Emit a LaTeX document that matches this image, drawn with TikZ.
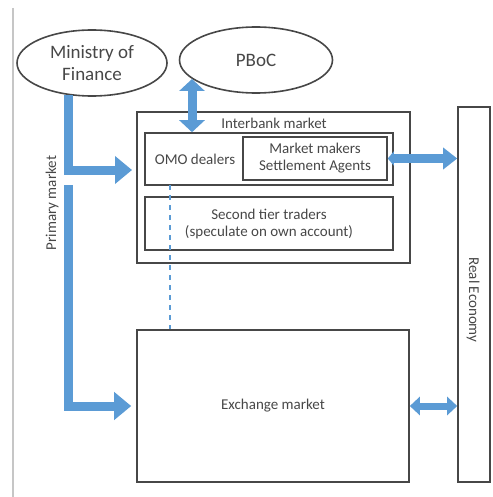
\documentclass[tikz,border=0pt]{standalone}
\usepackage{fontspec}
\setmainfont{Carlito}
\usetikzlibrary{arrows.meta,shapes.geometric}
\definecolor{OffBlue}{HTML}{5B9BD5}
\definecolor{Ink}{HTML}{474747}

\begin{document}
\begin{tikzpicture}[x=1pt,y=-1pt,
  el/.style={ellipse,draw=Ink,line width=1.6pt,text=Ink,align=center,inner sep=0pt,
    font=\fontsize{19}{22}\selectfont},
  bx/.style={draw=Ink,line width=1.6pt,text=Ink,align=center,inner sep=0pt,
    font=\fontsize{15}{17}\selectfont},
  lbl/.style={text=Ink,inner sep=0pt,font=\fontsize{15}{17}\selectfont},
  fl/.style={draw=OffBlue,line width=9pt,-{Triangle[length=17pt,width=27pt]}},
  dfl/.style={draw=OffBlue,line width=7pt,{Triangle[length=10pt,width=18pt]}-{Triangle[length=10pt,width=18pt]}},
  dsh/.style={draw=OffBlue,line width=1.5pt,dash pattern=on 5pt off 5pt}]
\useasboundingbox (0,0) rectangle (492,497);

% ===== left rule =====
\draw[gray!45,line width=1.2pt] (13,8) -- (13,497);

% ===== issuers =====
\node[el,minimum width=150,minimum height=66] (mof) at (92,63) {Ministry of\\Finance};
\node[el,minimum width=153,minimum height=66] (pboc) at (256,60) {PBoC};

% ===== interbank market =====
\node[bx,minimum width=273,minimum height=151] (ib) at (273.5,187.5) {};
\node[lbl] (ibl) at (274,123) {Interbank market};
\node[bx,minimum width=248,minimum height=52] (omo) at (269,159) {};
\node[lbl] (omol) at (195,159) {OMO dealers};
\node[bx,minimum width=144,minimum height=43] (mm) at (315,158.5) {Market makers\\Settlement Agents};
\node[bx,minimum width=248,minimum height=53] (st) at (269,223.5) {Second tier traders\\(speculate on own account)};

% ===== exchange + real economy =====
\node[bx,minimum width=272,minimum height=152] (ex) at (273,406) {Exchange market};
\node[bx,minimum width=32,minimum height=375] (re) at (474,294.5) {};
\node[lbl,rotate=-90] (rel) at (473,300) {Real Economy};
\node[lbl,rotate=90] (pml) at (52,203) {Primary market};

% ===== flows =====
\coordinate (pm1) at (68,95);
\coordinate (pm2) at (68,185);
\coordinate (pmt) at (132,170);
\coordinate (pb) at (192,79);
\coordinate (dl) at (170,185);
\draw[fl] (pm1) |- (pmt);
\draw[fl] (pm2) |- ([xshift=-5pt]ex.west);
\draw[draw=OffBlue,line width=9pt,{Triangle[length=12pt,width=25pt]}-{Triangle[length=12pt,width=25pt]}]
  (pb) -- (pb |- omo.north);
\draw[draw=OffBlue,line width=8pt,{Triangle[length=6pt,width=14pt]}-{Triangle[length=14pt,width=21pt]}]
  (mm.east) -- (mm.east -| re.west);
\draw[dfl] (ex.east) -- (ex.east -| re.west);
\draw[dsh] (dl) -- (dl |- ex.north);
\end{tikzpicture}
\end{document}
